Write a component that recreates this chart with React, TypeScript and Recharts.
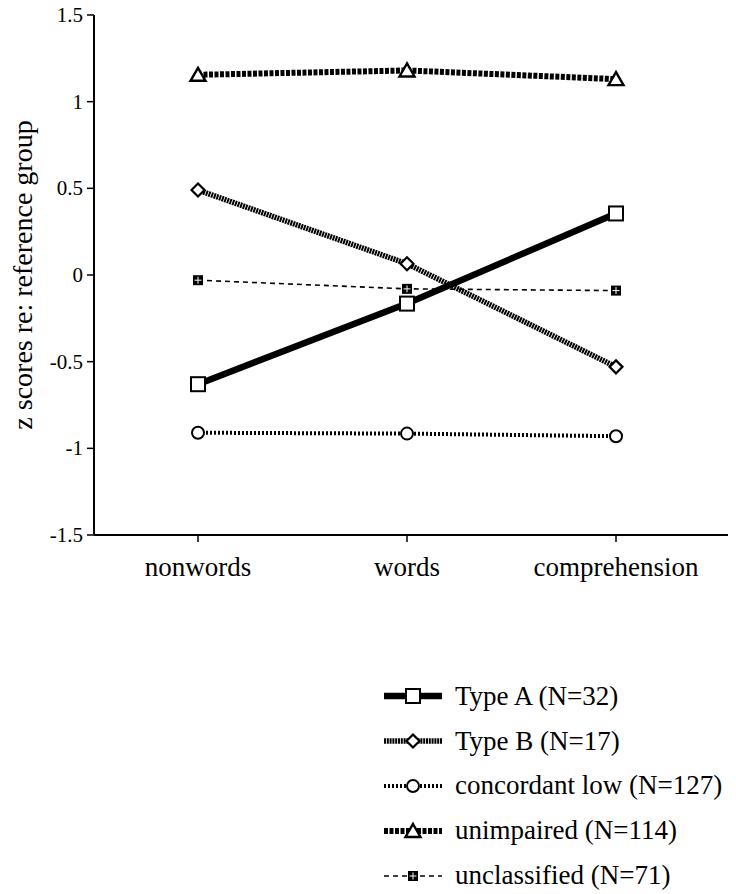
import React from 'react';
import { LineChart, Line, XAxis, YAxis } from 'recharts';

const categories = ['nonwords', 'words', 'comprehension'];
const typeA = [-0.63, -0.165, 0.355];
const typeB = [0.49, 0.065, -0.53];
const concordantLow = [-0.91, -0.915, -0.93];
const unimpaired = [1.155, 1.18, 1.13];
const unclassified = [-0.03, -0.08, -0.09];
const yTicks = [-1.5, -1, -0.5, 0, 0.5, 1, 1.5];

const data = categories.map((c, i) => ({
  name: c,
  typeA: typeA[i],
  typeB: typeB[i],
  low: concordantLow[i],
  unimpaired: unimpaired[i],
  unclassified: unclassified[i],
}));

const FONT = '"Liberation Serif", "Times New Roman", serif';

type Marker = 'square' | 'diamond' | 'circle' | 'triangle' | 'crossSquare';

const drawMarker = (kind: Marker, cx: number, cy: number, key?: any) => {
  switch (kind) {
    case 'square':
      return <rect key={key} x={cx - 7} y={cy - 7} width={14} height={14} fill="#fff" stroke="#000" strokeWidth={2} />;
    case 'diamond':
      return (
        <polygon key={key} points={`${cx},${cy - 6.5} ${cx + 6.5},${cy} ${cx},${cy + 6.5} ${cx - 6.5},${cy}`} fill="#fff" stroke="#000" strokeWidth={2.2} />
      );
    case 'circle':
      return <circle key={key} cx={cx} cy={cy} r={6} fill="#fff" stroke="#000" strokeWidth={2} />;
    case 'triangle':
      return (
        <polygon key={key} points={`${cx},${cy - 7} ${cx + 7.5},${cy + 6} ${cx - 7.5},${cy + 6}`} fill="#fff" stroke="#000" strokeWidth={2.4} />
      );
    default:
      return (
        <g key={key}>
          <rect x={cx - 5} y={cy - 5} width={10} height={10} fill="#000" />
          <line x1={cx} y1={cy - 3.5} x2={cx} y2={cy + 3.5} stroke="#fff" strokeWidth={1} />
          <line x1={cx - 3.5} y1={cy} x2={cx + 3.5} y2={cy} stroke="#fff" strokeWidth={1} />
        </g>
      );
  }
};

const series = [
  { key: 'typeA', label: 'Type A (N=32)', width: 6.5, dash: undefined, marker: 'square' as Marker, color: '#000' },
  { key: 'typeB', label: 'Type B (N=17)', width: 5.5, dash: '2 0.8', marker: 'diamond' as Marker, color: '#000' },
  { key: 'low', label: 'concordant low (N=127)', width: 4, dash: '2 2', marker: 'circle' as Marker, color: '#000' },
  { key: 'unimpaired', label: 'unimpaired (N=114)', width: 6, dash: '4 1.5', marker: 'triangle' as Marker, color: '#000' },
  { key: 'unclassified', label: 'unclassified (N=71)', width: 1.6, dash: '5 4', marker: 'crossSquare' as Marker, color: '#000' },
];

const drawOrder = ['unclassified', 'low', 'unimpaired', 'typeB', 'typeA'];

const XTick = ({ x, y, payload }: any) => (
  <text x={x} y={y + 32} textAnchor="middle" fill="#000" fontSize={27} fontFamily={FONT}>
    {payload.value}
  </text>
);

const YTick = ({ x, y, payload }: any) => (
  <text x={x - 2} y={y + 7} textAnchor="end" fill="#000" fontSize={21} fontFamily={FONT}>
    {payload.value}
  </text>
);

const LegendBox = () => (
  <div style={{ position: 'absolute', left: 383, top: 674, fontFamily: FONT, fontSize: 27, color: '#000', whiteSpace: 'nowrap' }}>
    {series.map((s) => (
      <div key={s.key} style={{ display: 'flex', alignItems: 'center', height: 44.8 }}>
        <svg width={60} height={20} style={{ marginRight: 12 }}>
          <line x1={1} y1={10} x2={59} y2={10} stroke={s.color} strokeWidth={s.width} strokeDasharray={s.dash} />
          {drawMarker(s.marker, 30, 10)}
        </svg>
        <span>{s.label}</span>
      </div>
    ))}
  </div>
);

export default function App() {
  return (
    <div style={{ position: 'absolute', left: 0, top: 0, width: 736, height: 894, background: '#fff', overflow: 'hidden' }}>
      <LineChart width={736} height={894} data={data} margin={{ top: 15, right: 8, bottom: 329, left: 0 }}>
        <XAxis
          dataKey="name"
          padding={{ left: 104, right: 112 }}
          axisLine={{ stroke: '#000', strokeWidth: 2 }}
          tickLine={{ stroke: '#000', strokeWidth: 1.5 }}
          tickSize={7}
          tick={<XTick />}
          interval={0}
        />
        <YAxis
          domain={[-1.5, 1.5]}
          ticks={yTicks}
          width={94}
          axisLine={{ stroke: '#000', strokeWidth: 2 }}
          tickLine={{ stroke: '#000', strokeWidth: 1.5 }}
          tickSize={7}
          tick={<YTick />}
          label={{
            value: 'z scores re: reference group',
            angle: -90,
            position: 'insideLeft',
            offset: 22,
            style: { fill: '#000', fontSize: 28, fontFamily: FONT, textAnchor: 'middle' },
          }}
        />
        {drawOrder.map((k) => {
          const s = series.find((x) => x.key === k)!;
          return (
            <Line
              key={s.key}
              dataKey={s.key}
              type="linear"
              stroke={s.color}
              strokeWidth={s.width}
              strokeDasharray={s.dash}
              isAnimationActive={false}
              dot={(p: any) => drawMarker(s.marker, p.cx, p.cy, `${s.key}-${p.index}`)}
              activeDot={false}
            />
          );
        })}
      </LineChart>
      <LegendBox />
    </div>
  );
}
